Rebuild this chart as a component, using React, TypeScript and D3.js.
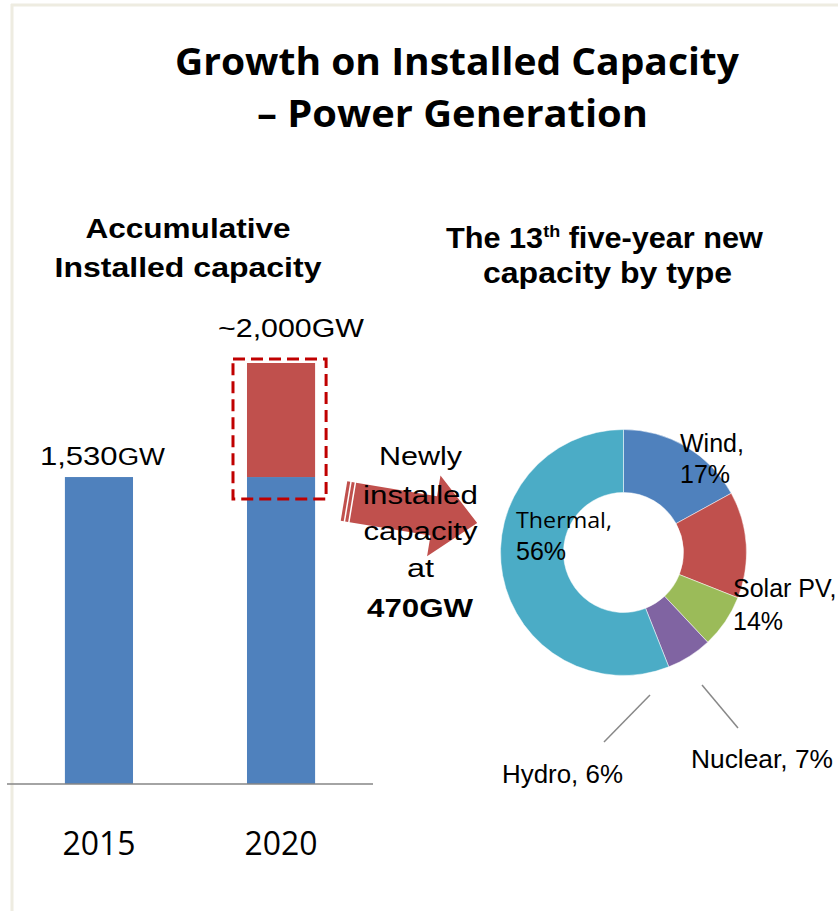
import React from "react";
import * as d3 from "d3";

// ---------- data ----------
const years = ["2015", "2020"];
const existingGW = [1530, 1530];
const addedGW = [0, 470];
const barLabels = ["1,530GW", "~2,000GW"];
const axisFloorGW = 265;
const totalGW = 2000;

const types = ["Wind", "Solar PV", "Nuclear", "Hydro", "Thermal"];
const shares = [17, 14, 7, 6, 56];
const typeColors = ["#4F81BD", "#C0504D", "#9BBB59", "#8064A2", "#4BACC6"];

const W = 838;
const H = 911;

const arial = "Arial, 'Liberation Sans', sans-serif";
const calibri = "'Open Sans', 'Noto Sans', sans-serif";

export default function App() {
  // bar chart scales
  const x = d3
    .scaleBand<string>()
    .domain(years)
    .range([7, 373])
    .paddingInner(0.626)
    .paddingOuter(0.318);
  const y = d3.scaleLinear().domain([axisFloorGW, totalGW]).range([784, 363]);
  const bw = x.bandwidth();

  // donut
  const cx = 623.5;
  const cy = 552.5;
  const rOuter = 123;
  const rInner = 60;
  const pie = d3.pie<number>().sort(null).value((d) => d);
  const arcs = pie(shares);
  const arcGen = d3.arc<d3.PieArcDatum<number>>().innerRadius(rInner).outerRadius(rOuter);

  const x2020 = x("2020")!;
  const x2015 = x("2015")!;

  return (
    <svg
      width={W}
      height={H}
      viewBox={`0 0 ${W} ${H}`}
      style={{ position: "absolute", left: 0, top: 0, background: "#fff" }}
    >
      <rect x={0} y={0} width={W} height={H} fill="#ffffff" />
      {/* frame */}
      <line x1={11} y1={5} x2={W} y2={5} stroke="#EEECE1" strokeWidth={3} />
      <line x1={12} y1={4} x2={12} y2={H} stroke="#EEECE1" strokeWidth={3} />

      {/* main title */}
      <text
        x={457}
        y={75}
        textAnchor="middle"
        fontFamily={calibri}
        fontWeight="bold"
        fontSize={38}
        textLength={564}
        lengthAdjust="spacingAndGlyphs"
        fill="#000"
      >
        Growth on Installed Capacity
      </text>
      <text
        x={452.5}
        y={127}
        textAnchor="middle"
        fontFamily={calibri}
        fontWeight="bold"
        fontSize={38}
        textLength={391}
        lengthAdjust="spacingAndGlyphs"
        fill="#000"
      >
        – Power Generation
      </text>

      {/* left subtitle */}
      <text x={188} y={238} textAnchor="middle" fontFamily={arial} fontWeight="bold" fontSize={28}
        textLength={205} lengthAdjust="spacingAndGlyphs">
        Accumulative
      </text>
      <text x={188} y={277} textAnchor="middle" fontFamily={arial} fontWeight="bold" fontSize={28}
        textLength={267} lengthAdjust="spacingAndGlyphs">
        Installed capacity
      </text>

      {/* right subtitle */}
      <text x={604.5} y={248} textAnchor="middle" fontFamily={arial} fontWeight="bold" fontSize={29}
        textLength={317} lengthAdjust="spacingAndGlyphs">
        The 13<tspan fontSize={17} dy={-11}>th</tspan>
        <tspan dy={11}> five-year new</tspan>
      </text>
      <text x={607.5} y={283} textAnchor="middle" fontFamily={arial} fontWeight="bold" fontSize={29}
        textLength={249} lengthAdjust="spacingAndGlyphs">
        capacity by type
      </text>

      {/* bars */}
      {years.map((yr, i) => (
        <g key={yr}>
          <rect
            x={x(yr)!}
            y={y(existingGW[i])}
            width={bw}
            height={y(axisFloorGW) - y(existingGW[i])}
            fill="#4F81BD"
          />
          {addedGW[i] > 0 && (
            <rect
              x={x(yr)!}
              y={y(existingGW[i] + addedGW[i])}
              width={bw}
              height={y(existingGW[i]) - y(existingGW[i] + addedGW[i])}
              fill="#C0504D"
            />
          )}
        </g>
      ))}

      {/* axis baseline */}
      <line x1={7} y1={y(axisFloorGW)} x2={373} y2={y(axisFloorGW)} stroke="#868686" strokeWidth={1.5} />

      {/* year labels */}
      {years.map((yr) => (
        <text
          key={yr}
          x={x(yr)! + bw / 2}
          y={855}
          textAnchor="middle"
          fontFamily={calibri}
          fontSize={32}
          textLength={73}
          lengthAdjust="spacingAndGlyphs"
          fill="#000"
        >
          {yr}
        </text>
      ))}

      {/* bar value labels */}
      <text x={x2015 + bw / 2 + 3.5} y={y(existingGW[0]) - 12} textAnchor="middle" fontFamily={arial}
        fontSize={26} textLength={125} lengthAdjust="spacingAndGlyphs">
        1,530<tspan fontSize={23}>GW</tspan>
      </text>
      <text x={x2020 + bw / 2 + 10} y={y(totalGW) - 26} textAnchor="middle" fontFamily={arial}
        fontSize={26} textLength={146} lengthAdjust="spacingAndGlyphs">
        {barLabels[1]}
      </text>

      {/* dashed box around the new capacity */}
      <rect
        x={x2020 - 14}
        y={y(totalGW) - 4}
        width={bw + 25}
        height={y(existingGW[1]) - y(totalGW) + 26}
        fill="none"
        stroke="#C00000"
        strokeWidth={3}
        strokeDasharray="12 6"
      />

      {/* arrow */}
      <g transform="translate(344,501) rotate(9.4)" fill="#C0504D">
        <rect x={0} y={-20} width={3} height={40} />
        <rect x={4.5} y={-20} width={3} height={40} />
        <polygon points="9,-20 91,-20 91,-41 135,0 91,41 91,20 9,20" />
      </g>

      {/* arrow text */}
      {[
        { t: "Newly", y: 465, w: 83 },
        { t: "installed", y: 504, w: 115 },
        { t: "capacity", y: 540, w: 114 },
        { t: "at", y: 577, w: 27 },
      ].map((d) => (
        <text key={d.t} x={420.5} y={d.y} textAnchor="middle" fontFamily={arial} fontSize={26}
          textLength={d.w} lengthAdjust="spacingAndGlyphs">
          {d.t}
        </text>
      ))}
      <text x={420} y={617} textAnchor="middle" fontFamily={arial} fontWeight="bold" fontSize={26}
        textLength={106} lengthAdjust="spacingAndGlyphs">
        470GW
      </text>

      {/* donut */}
      <g transform={`translate(${cx},${cy})`}>
        {arcs.map((a, i) => (
          <path key={types[i]} d={arcGen(a)!} fill={typeColors[i]} stroke="#ffffff" strokeWidth={0.5} />
        ))}
      </g>

      {/* leader lines */}
      <line x1={702} y1={685} x2={738} y2={728} stroke="#888" strokeWidth={1.5} />
      <line x1={650} y1={695} x2={604} y2={742} stroke="#888" strokeWidth={1.5} />

      {/* donut labels */}
      <text x={680} y={452} fontFamily={arial} fontSize={25}>{types[0]},</text>
      <text x={680} y={483} fontFamily={arial} fontSize={25}>{shares[0]}%</text>

      <text x={733} y={597} fontFamily={arial} fontSize={25}>{types[1]},</text>
      <text x={733} y={630} fontFamily={arial} fontSize={25}>{shares[1]}%</text>

      <text x={691} y={768} fontFamily={arial} fontSize={25} textLength={142} lengthAdjust="spacingAndGlyphs">
        {types[2]}, {shares[2]}%
      </text>
      <text x={502} y={783} fontFamily={arial} fontSize={25} textLength={121} lengthAdjust="spacingAndGlyphs">
        {types[3]}, {shares[3]}%
      </text>

      <text x={516} y={528} fontFamily={calibri} fontSize={22} textLength={96} lengthAdjust="spacingAndGlyphs">
        {types[4]},
      </text>
      <text x={516} y={560} fontFamily={arial} fontSize={25}>{shares[4]}%</text>
    </svg>
  );
}
